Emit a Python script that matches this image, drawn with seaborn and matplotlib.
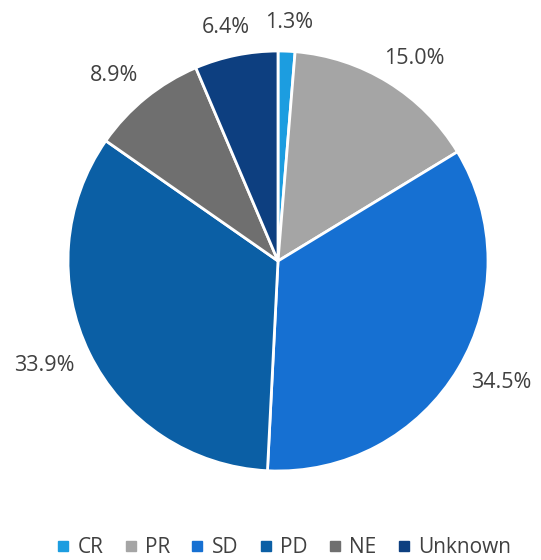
import matplotlib
matplotlib.use("Agg")
import numpy as np
import matplotlib.pyplot as plt
import seaborn as sns
from matplotlib.lines import Line2D

sns.set_theme(style="white")
plt.rcParams['font.family'] = ['Open Sans', 'DejaVu Sans']

categories = ["CR", "PR", "SD", "PD", "NE", "Unknown"]
values = [1.3, 15.0, 34.5, 33.9, 8.9, 6.4]
colors = ["#1c9de0", "#a5a5a5", "#1670d2", "#0b5fa5", "#6f6f6f", "#0d3f80"]

fig = plt.figure(figsize=(5.41, 5.60), dpi=100)
w = 420 / 541
h = 420 / 560
cx = 278 / 541
cy = (560 - 261) / 560
ax = fig.add_axes([cx - w / 2, cy - h / 2, w, h])

wedges, texts = ax.pie(
    values, colors=colors, startangle=90, counterclock=False, radius=1,
    wedgeprops=dict(edgecolor="white", linewidth=2))
ax.set_xlim(-1, 1)
ax.set_ylim(-1, 1)
ax.set_aspect("equal")
ax.axis("off")

tw, th = 0.30, 0.09
for wdg, v in zip(wedges, values):
    ang = np.deg2rad((wdg.theta1 + wdg.theta2) / 2)
    dx, dy = np.cos(ang), np.sin(ang)
    x = dx * 1.09 + dx * tw / 2
    y = dy * 1.09 + dy * th / 2
    ax.text(x, y, f"{v:.1f}%", ha="center", va="center", fontsize=15.5,
            color="#404040", clip_on=False)

handles = [Line2D([0], [0], marker="s", linestyle="", markersize=7,
                  markerfacecolor=c, markeredgecolor=c) for c in colors]
fig.legend(handles, categories, loc="lower center", bbox_to_anchor=(0.525, -0.03),
           ncol=6, frameon=False, fontsize=15, handlelength=0.6,
           handletextpad=0.4, columnspacing=1.0, labelcolor="#404040")

fig.savefig("out.png", dpi=100)
